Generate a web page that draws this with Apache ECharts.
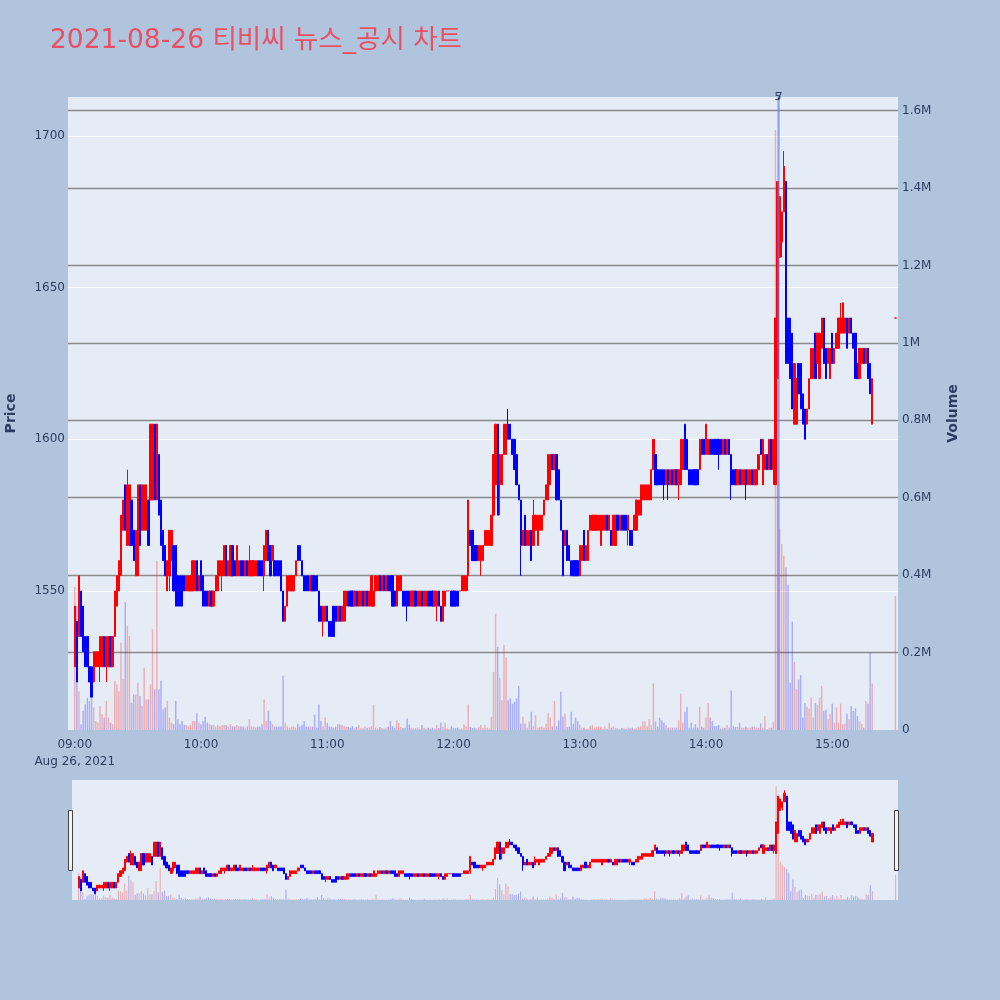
<!DOCTYPE html>
<html><head><meta charset="utf-8">
<script src="https://cdn.jsdelivr.net/npm/echarts@6/dist/echarts.min.js"></script>
<style>html,body{margin:0;padding:0;background:#b0c4de}#c{width:1000px;height:1000px}</style>
</head><body><div id="c"></div><script>
const chartTitle = '2021-08-26 티비씨 뉴스_공시 차트';
// one candle per minute from 09:00, last entry = 15:30 closing auction
const opens = [
1525,1540,1535,1550,1545,1535,1535,1525,1525,1520,
1525,1525,1525,1525,1535,1525,1525,1535,1525,1535,
1545,1550,1555,1570,1585,1565,1565,1580,1570,1555,
1555,1585,1570,1570,1570,1580,1580,1580,1605,1580,
1595,1580,1570,1565,1550,1555,1560,1565,1565,1555,
1555,1555,1555,1550,1550,1550,1550,1550,1560,1550,
1560,1555,1550,1550,1545,1550,1545,1550,1550,1555,
1555,1555,1565,1555,1555,1565,1560,1555,1555,1560,
1560,1555,1560,1555,1555,1555,1555,1560,1560,1560,
1555,1560,1570,1565,1560,1560,1560,1560,1560,1550,
1540,1545,1550,1550,1550,1555,1565,1565,1560,1555,
1555,1555,1550,1555,1555,1555,1550,1545,1540,1540,
1545,1540,1540,1545,1545,1540,1545,1540,1540,1545,
1550,1550,1550,1545,1550,1545,1545,1550,1545,1550,
1545,1545,1545,1550,1550,1555,1550,1555,1550,1555,
1555,1555,1550,1545,1550,1550,1550,1550,1550,1550,
1545,1545,1550,1545,1545,1550,1545,1545,1550,1550,
1550,1545,1545,1550,1545,1540,1545,1550,1550,1550,
1550,1550,1550,1550,1550,1550,1550,1555,1570,1570,
1565,1565,1560,1560,1560,1565,1565,1565,1565,1575,
1585,1605,1585,1585,1595,1595,1605,1605,1600,1600,
1595,1585,1580,1565,1575,1565,1565,1570,1565,1570,
1565,1570,1570,1575,1580,1580,1585,1595,1590,1595,
1590,1580,1570,1565,1570,1565,1560,1560,1560,1560,
1555,1560,1570,1560,1560,1570,1570,1570,1570,1570,
1565,1570,1570,1575,1570,1570,1565,1565,1575,1570,
1575,1575,1575,1570,1570,1570,1570,1570,1575,1575,
1580,1580,1580,1580,1580,1590,1595,1590,1590,1590,
1590,1585,1590,1585,1590,1585,1590,1585,1585,1590,
1605,1600,1590,1590,1590,1590,1590,1590,1600,1600,
1595,1595,1600,1600,1600,1600,1600,1600,1595,1600,
1595,1600,1595,1590,1590,1585,1590,1585,1585,1590,
1585,1585,1590,1585,1585,1590,1600,1585,1590,1595,
1590,1600,1590,1585,1620,1660,1665,1675,1685,1640,
1640,1635,1605,1605,1625,1625,1615,1610,1605,1610,
1620,1620,1635,1625,1620,1630,1640,1630,1625,1620,
1635,1625,1630,1630,1635,1635,1635,1640,1635,1640,
1635,1635,1625,1620,1625,1630,1625,1630,1625,1605,
1640];
const closes = [
1545,1520,1555,1535,1530,1525,1525,1520,1515,1530,
1530,1530,1535,1535,1525,1535,1535,1525,1535,1550,
1555,1560,1575,1580,1570,1585,1585,1565,1560,1570,
1585,1565,1585,1585,1585,1565,1605,1605,1580,1605,
1575,1565,1560,1555,1560,1570,1570,1550,1545,1545,
1545,1545,1550,1555,1555,1555,1560,1560,1550,1555,
1550,1545,1545,1545,1550,1545,1550,1555,1560,1560,
1560,1565,1555,1560,1565,1555,1555,1565,1560,1555,
1555,1560,1555,1560,1560,1560,1560,1555,1555,1555,
1565,1570,1560,1555,1565,1555,1555,1555,1550,1540,
1545,1555,1555,1555,1555,1560,1560,1560,1555,1550,
1550,1550,1555,1550,1550,1550,1540,1540,1545,1545,
1540,1535,1535,1535,1540,1545,1540,1545,1550,1550,
1545,1545,1545,1550,1545,1550,1550,1545,1550,1545,
1550,1555,1550,1555,1555,1550,1555,1550,1555,1550,
1550,1545,1545,1555,1555,1555,1545,1545,1545,1545,
1550,1550,1545,1550,1550,1545,1550,1550,1545,1545,
1545,1550,1550,1545,1540,1550,1550,1550,1550,1545,
1545,1545,1545,1550,1555,1555,1555,1580,1565,1560,
1560,1560,1565,1565,1565,1570,1570,1570,1575,1595,
1605,1575,1595,1595,1605,1605,1600,1600,1595,1590,
1585,1580,1565,1570,1565,1570,1570,1560,1575,1575,
1575,1575,1575,1580,1585,1595,1595,1590,1595,1580,
1580,1570,1555,1570,1560,1560,1555,1555,1555,1555,
1565,1565,1560,1565,1570,1575,1575,1575,1575,1575,
1575,1575,1575,1570,1575,1565,1575,1575,1570,1575,
1570,1570,1570,1575,1565,1565,1575,1580,1580,1585,
1585,1585,1585,1585,1590,1600,1585,1585,1585,1585,
1585,1590,1585,1590,1585,1590,1585,1590,1600,1600,
1590,1590,1585,1585,1585,1585,1585,1600,1595,1595,
1605,1600,1595,1595,1595,1595,1595,1595,1600,1595,
1600,1595,1585,1585,1585,1590,1585,1590,1590,1585,
1590,1590,1585,1590,1590,1595,1595,1600,1595,1590,
1600,1590,1600,1640,1685,1680,1675,1690,1625,1625,
1620,1610,1625,1620,1615,1610,1605,1600,1610,1620,
1630,1630,1620,1635,1635,1640,1625,1620,1630,1630,
1625,1630,1635,1640,1640,1645,1640,1630,1640,1635,
1630,1620,1620,1630,1630,1625,1630,1620,1615,1620,
1640];
const lows = [
1525,1520,1535,1535,1530,1525,1525,1520,1515,1520,
1525,1525,1520,1525,1525,1520,1525,1525,1525,1535,
1545,1550,1555,1570,1570,1565,1565,1565,1560,1555,
1555,1565,1570,1570,1570,1565,1580,1580,1580,1580,
1575,1565,1560,1555,1550,1550,1560,1550,1545,1545,
1545,1545,1550,1550,1550,1550,1550,1550,1550,1550,
1550,1545,1545,1545,1545,1545,1545,1550,1550,1555,
1550,1555,1555,1555,1555,1555,1555,1555,1555,1555,
1555,1555,1555,1555,1555,1555,1555,1555,1555,1555,
1550,1560,1560,1555,1560,1555,1555,1555,1550,1540,
1540,1545,1550,1550,1550,1555,1560,1560,1555,1550,
1550,1550,1550,1550,1550,1550,1540,1540,1535,1540,
1540,1535,1535,1535,1540,1540,1540,1540,1540,1540,
1545,1545,1545,1545,1545,1545,1545,1545,1545,1545,
1545,1545,1545,1550,1550,1550,1550,1550,1550,1550,
1550,1545,1545,1545,1550,1550,1545,1545,1540,1545,
1545,1545,1545,1545,1545,1545,1545,1545,1545,1545,
1545,1545,1540,1545,1540,1540,1545,1550,1550,1545,
1545,1545,1545,1550,1550,1550,1550,1550,1565,1560,
1560,1560,1560,1555,1560,1565,1565,1565,1565,1575,
1585,1575,1575,1585,1595,1595,1600,1600,1595,1590,
1585,1580,1555,1565,1565,1565,1565,1560,1565,1570,
1565,1570,1570,1575,1580,1580,1585,1590,1590,1580,
1580,1570,1555,1565,1560,1560,1555,1555,1555,1555,
1555,1560,1560,1560,1560,1570,1570,1570,1570,1570,
1565,1570,1570,1570,1570,1565,1565,1565,1570,1570,
1570,1570,1570,1565,1565,1565,1570,1570,1575,1575,
1580,1580,1580,1580,1580,1590,1585,1585,1585,1585,
1580,1585,1580,1585,1585,1585,1585,1580,1585,1590,
1590,1590,1585,1585,1585,1585,1585,1590,1595,1595,
1595,1595,1595,1595,1595,1595,1590,1595,1595,1595,
1595,1595,1580,1585,1585,1585,1585,1585,1585,1580,
1585,1585,1585,1585,1585,1590,1595,1585,1590,1590,
1590,1590,1585,1585,1620,1660,1660,1675,1625,1625,
1620,1610,1605,1605,1615,1610,1605,1600,1605,1610,
1620,1620,1620,1625,1620,1630,1625,1620,1625,1620,
1625,1625,1630,1630,1635,1635,1635,1630,1635,1635,
1630,1620,1620,1620,1625,1625,1625,1620,1615,1605,
1640];
const highs = [
1545,1540,1555,1550,1545,1535,1535,1525,1525,1530,
1530,1530,1535,1535,1535,1535,1535,1535,1535,1550,
1555,1560,1575,1580,1585,1590,1585,1580,1570,1570,
1585,1585,1585,1585,1585,1580,1605,1605,1605,1605,
1595,1580,1570,1565,1560,1570,1570,1565,1565,1555,
1555,1555,1555,1555,1555,1555,1560,1560,1560,1555,
1560,1555,1550,1550,1550,1550,1550,1555,1560,1560,
1560,1565,1565,1560,1565,1565,1560,1565,1560,1560,
1560,1560,1560,1565,1560,1560,1560,1560,1560,1560,
1565,1570,1570,1565,1565,1560,1560,1560,1560,1550,
1545,1555,1555,1555,1555,1560,1565,1565,1560,1555,
1555,1555,1555,1555,1555,1555,1550,1545,1545,1545,
1545,1540,1540,1545,1545,1545,1545,1545,1550,1550,
1550,1550,1550,1550,1550,1550,1550,1550,1550,1550,
1550,1555,1550,1555,1555,1555,1555,1555,1555,1555,
1555,1555,1550,1555,1555,1555,1550,1550,1550,1550,
1550,1550,1550,1550,1550,1550,1550,1550,1550,1550,
1550,1550,1550,1550,1545,1550,1550,1550,1550,1550,
1550,1550,1550,1550,1555,1555,1555,1580,1570,1570,
1565,1565,1565,1565,1565,1570,1570,1570,1575,1595,
1605,1605,1595,1595,1605,1605,1610,1605,1600,1600,
1595,1585,1580,1570,1575,1570,1570,1570,1580,1575,
1575,1575,1575,1580,1585,1595,1595,1595,1595,1595,
1590,1580,1570,1570,1570,1565,1560,1560,1560,1560,
1565,1565,1570,1565,1570,1575,1575,1575,1575,1575,
1575,1575,1575,1575,1575,1570,1575,1575,1575,1575,
1575,1575,1575,1575,1570,1570,1575,1580,1580,1585,
1585,1585,1585,1585,1590,1600,1595,1590,1590,1590,
1590,1590,1590,1590,1590,1590,1590,1590,1600,1600,
1605,1600,1590,1590,1590,1590,1590,1600,1600,1600,
1605,1600,1600,1600,1600,1600,1600,1600,1600,1600,
1600,1600,1595,1590,1590,1590,1590,1590,1590,1590,
1590,1590,1590,1590,1590,1595,1600,1600,1595,1595,
1600,1600,1600,1640,1685,1680,1675,1695,1685,1640,
1640,1635,1625,1620,1625,1625,1615,1610,1610,1620,
1630,1630,1635,1635,1635,1640,1640,1630,1630,1630,
1635,1630,1635,1640,1645,1645,1640,1640,1640,1640,
1635,1635,1625,1630,1630,1630,1630,1630,1625,1620,
1640];
// traded volume per candle, thousands of shares
const volumesK = [
370,320,100,15,50,66,83,75,83,58,
23,19,62,40,32,75,32,19,15,127,
118,100,226,131,330,269,243,70,92,92,
122,88,62,161,79,79,118,260,105,437,
105,127,53,58,75,32,19,15,75,28,
15,23,13,13,10,13,23,23,43,19,
15,23,34,19,15,13,13,9,13,10,
13,13,13,9,15,10,9,13,10,10,
9,6,9,28,10,9,6,9,9,15,
79,23,50,23,15,9,9,9,9,140,
19,9,6,9,9,6,16,9,13,23,
9,9,9,9,40,6,66,23,10,32,
19,9,9,6,9,15,15,13,10,9,
8,6,10,5,8,12,6,4,9,5,
7,10,65,6,4,8,5,3,6,9,
23,10,6,25,18,8,5,6,30,14,
6,5,4,7,3,13,5,4,6,3,
6,4,13,5,19,8,19,4,3,10,
6,5,6,3,4,15,10,66,8,5,
6,4,7,13,5,13,6,4,34,150,
300,215,135,77,220,187,77,82,68,73,
82,114,16,34,16,6,22,47,10,38,
6,8,10,6,16,43,32,9,75,10,
25,99,34,42,8,9,47,16,32,23,
13,6,6,3,3,10,13,6,9,9,
9,3,10,3,19,6,9,5,4,3,
5,4,3,6,4,6,3,6,9,10,
22,22,10,28,13,120,22,9,32,25,
19,13,6,6,6,6,6,25,94,19,
47,60,6,19,6,15,6,60,9,6,
32,70,32,23,10,10,13,4,6,6,
13,6,102,10,8,8,19,6,6,9,
6,6,9,9,6,6,17,6,36,2,
6,6,21,1550,900,520,480,450,420,375,
122,280,176,105,130,142,32,70,60,55,
84,32,70,65,84,114,49,52,28,42,
68,19,58,19,68,15,16,42,28,62,
49,56,36,22,16,6,75,68,200,120,
346];
const newsEvents = [{label:'5', time:[14,34,10]}, {label:'7', time:[14,34,40]}];
const dateLabel = 'Aug 26, 2021';

const fontFamily = '"DejaVu Sans", "Noto Sans CJK KR", sans-serif';
const textColor = '#2a3f5f';
const upColor = '#ff0000', downColor = '#0000ff';
const upVol = 'rgba(255,0,0,0.26)', downVol = 'rgba(0,0,255,0.26)';
const t = (h, m, s) => new Date(2021, 7, 26, h, m, s || 0).getTime();
const last = opens.length - 1;
const times = opens.map((_, i) => i < last ? t(9, i) : t(15, 30));
const isUp = i => closes[i] > opens[i] || (closes[i] === opens[i] && (i === 0 || closes[i] >= closes[i - 1]));
const candleData = times.map((x, i) => [x, opens[i], closes[i], lows[i], highs[i]]);
const volData = times.map((x, i) => ({value: [x, volumesK[i]], itemStyle: {color: isUp(i) ? upVol : downVol}}));

const xMin = t(8, 57, 9), xMax = t(15, 30, 54);
const priceMin = 1504.17, priceMax = 1712.86, volMax = 1635;
const pad = n => (n < 10 ? '0' : '') + n;
const candleStyle = {color: upColor, color0: downColor, borderColor: upColor, borderColor0: downColor, borderWidth: 1};

const option = {
  animation: false,
  backgroundColor: '#b0c4de',
  title: {text: chartTitle, left: 45, top: 23, textStyle: {color: '#ea5062', fontSize: 26.5, fontWeight: 'normal', fontFamily}},
  grid: [
    {left: 68, right: 102, top: 97, height: 633, show: true, backgroundColor: '#e5ecf6', borderWidth: 0, containLabel: false, outerBoundsMode: 'none'},
    {left: 72, right: 102, top: 780, height: 120, show: true, backgroundColor: '#e5ecf6', borderWidth: 0, containLabel: false, outerBoundsMode: 'none'}
  ],
  xAxis: [
    {type: 'time', gridIndex: 0, min: xMin, max: xMax, minInterval: 3600000, maxInterval: 3600000,
     axisLine: {show: false}, axisTick: {show: false}, splitLine: {show: false},
     axisLabel: {showMinLabel: false, showMaxLabel: false, color: textColor, fontFamily, fontSize: 12, margin: 6, lineHeight: 17,
       formatter: v => { const d = new Date(v); const s = pad(d.getHours()) + ':' + pad(d.getMinutes());
         return (d.getHours() === 9 && d.getMinutes() === 0) ? s + '\n' + dateLabel : s; }}},
    {type: 'time', gridIndex: 1, min: xMin, max: xMax, show: false}
  ],
  yAxis: [
    {type: 'value', gridIndex: 0, position: 'left', min: priceMin, max: priceMax,
     axisLine: {show: false}, axisTick: {show: false},
     axisLabel: {showMinLabel: false, showMaxLabel: false, color: textColor, fontFamily, fontSize: 12, margin: 3,
       formatter: v => String(Math.round(v))},
     splitLine: {show: true, showMinLine: false, showMaxLine: false, lineStyle: {color: '#ffffff', width: 1}},
     name: 'Price', nameLocation: 'middle', nameRotate: 90, nameGap: 50,
     nameTextStyle: {color: textColor, fontFamily, fontSize: 14, fontWeight: 'bold'}},
    {type: 'value', gridIndex: 0, position: 'right', min: 0, max: volMax, interval: 200,
     axisLine: {show: false}, axisTick: {show: false},
     axisLabel: {showMaxLabel: false, color: textColor, fontFamily, fontSize: 12, margin: 4,
       formatter: v => v === 0 ? '0' : (v / 1000) + 'M'},
     splitLine: {show: true, showMinLine: false, showMaxLine: false, lineStyle: {color: '#8a8a8a', width: 1.3}},
     name: 'Volume', nameLocation: 'middle', nameRotate: 90, nameGap: 48,
     nameTextStyle: {color: textColor, fontFamily, fontSize: 14, fontWeight: 'bold'}},
    {type: 'value', gridIndex: 1, min: priceMin, max: priceMax, show: false},
    {type: 'value', gridIndex: 1, min: 0, max: volMax, show: false}
  ],
  series: [
    {type: 'bar', name: 'Volume', xAxisIndex: 0, yAxisIndex: 1, data: volData, barWidth: 1.5, z: 2, silent: true},
    {type: 'candlestick', name: 'Price', xAxisIndex: 0, yAxisIndex: 0, data: candleData,
     encode: {x: 0, y: [1, 2, 3, 4]}, barWidth: 1.8, itemStyle: candleStyle, z: 3, silent: true,
     markLine: {silent: true, symbol: ['none', 'none'], z: 6,
       lineStyle: {color: 'rgba(90,120,255,0.4)', width: 2, type: 'solid'},
       label: {show: true, position: 'end', distance: -6, color: textColor, fontFamily, fontSize: 11},
       data: newsEvents.map(e => ({xAxis: t(e.time[0], e.time[1], e.time[2]), label: {formatter: e.label}}))}},
    {type: 'bar', xAxisIndex: 1, yAxisIndex: 3, data: volData, barWidth: 1.2, z: 2, silent: true},
    {type: 'candlestick', xAxisIndex: 1, yAxisIndex: 2, data: candleData,
     encode: {x: 0, y: [1, 2, 3, 4]}, barWidth: 1.6, itemStyle: candleStyle, z: 3, silent: true}
  ],
  graphic: [
    {type: 'rect', shape: {x: 68.5, y: 810.5, width: 4, height: 60}, style: {fill: '#f4f4f4', stroke: '#444', lineWidth: 1}, z: 10},
    {type: 'rect', shape: {x: 894.5, y: 810.5, width: 4, height: 60}, style: {fill: '#f4f4f4', stroke: '#444', lineWidth: 1}, z: 10}
  ]
};
const chart = echarts.init(document.getElementById('c'), null, {renderer: 'canvas'});
chart.setOption(option);
</script></body></html>
